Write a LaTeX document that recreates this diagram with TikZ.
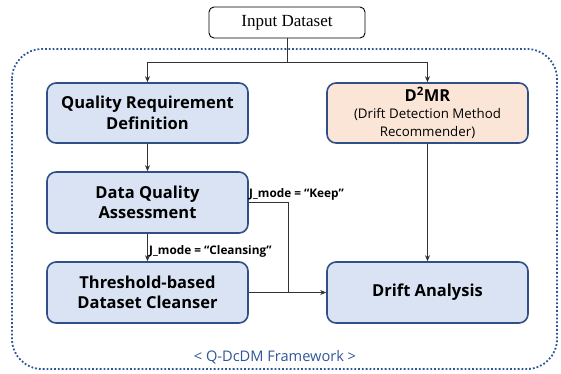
\documentclass[tikz,border=0pt]{standalone}
\usepackage{fontspec}
\setmainfont{Open Sans}
\newfontfamily\serifin{Liberation Serif}
\usetikzlibrary{arrows.meta}
\definecolor{boxblue}{HTML}{DAE3F3}
\definecolor{boxedge}{HTML}{2F4F86}
\definecolor{boxorange}{HTML}{FBE5D6}
\definecolor{framec}{HTML}{2F5597}
\newcommand{\subfnt}{\fontsize{13.3}{16}\selectfont\mdseries}
\tikzset{
  blk/.style={draw=boxedge, line width=1.6pt, rounded corners=9pt, fill=boxblue,
    align=center, font=\bfseries\fontsize{16.5}{20.5}\selectfont, inner sep=0pt},
  conn/.style={draw=black!80, line width=0.75pt},
  arr/.style={conn, -{Stealth[length=6pt,width=5pt]}},
  lbl/.style={font=\bfseries\fontsize{11.8}{14}\selectfont, inner sep=1pt}
}
\begin{document}
\begin{tikzpicture}[x=1pt,y=-1pt]
\useasboundingbox (0,0) rectangle (561,373);
\draw[framec, line width=1.8pt, dotted, rounded corners=30pt] (12,49) rectangle (557,369);
\node[draw=black, line width=0.9pt, rounded corners=5pt, minimum width=156pt, minimum height=31pt,
  font=\serifin\fontsize{17}{20}\selectfont, inner sep=0pt] (in) at (287,22.5) {Input Dataset};
\node[blk, minimum width=201pt, minimum height=60pt] (qrd) at (147.5,113) {Quality Requirement\\Definition};
\node[blk, fill=boxorange, minimum width=201pt, minimum height=60pt] (d2mr) at (427.5,113)
  {D\textsuperscript{2}MR\\[-4pt]\subfnt (Drift Detection Method\\[-2pt]\subfnt Recommender)};
\node[blk, minimum width=201pt, minimum height=61pt] (dqa) at (147.5,202.5) {Data Quality\\Assessment};
\node[blk, minimum width=201pt, minimum height=61pt] (th) at (147.5,292.5) {Threshold-based\\Dataset Cleanser};
\node[blk, minimum width=201pt, minimum height=61pt] (da) at (427.5,292.5) {Drift Analysis};
\coordinate (split) at (287,62);
\coordinate (kj) at (288,292.5);
\draw[conn] (in.south) -- (split);
\draw[arr] (split) -| (qrd.north);
\draw[arr] (split) -| (d2mr.north);
\draw[arr] (qrd.south) -- (dqa.north);
\draw[arr] (dqa.south) -- (th.north);
\draw[arr] (d2mr.south) -- (da.north);
\draw[conn] (dqa.east) -| (kj);
\draw[arr] (th.east) -- (da.west);
\node[lbl, anchor=west] (lk) at (248,194) {J\_mode = “Keep”};
\node[lbl, anchor=west] (lc) at (148,251) {J\_mode = “Cleansing”};
\node[font=\fontsize{14.6}{17}\selectfont, text=framec] (fw) at (275,357) {< Q-DcDM Framework >};
\end{tikzpicture}
\end{document}
